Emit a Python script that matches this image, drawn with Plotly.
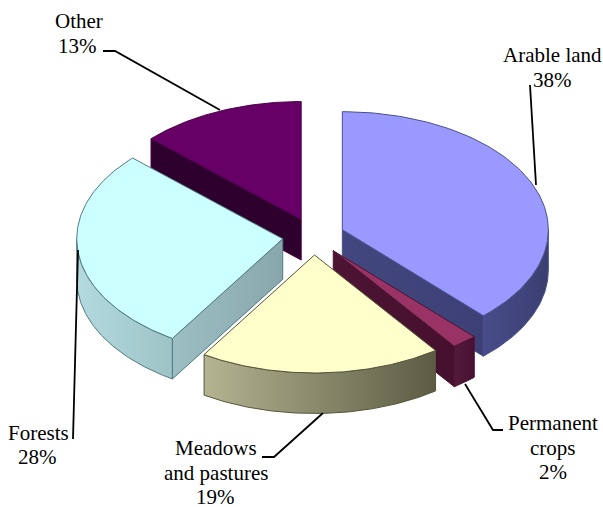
import numpy as np
import plotly.graph_objects as go

# --- chart data -------------------------------------------------------------
categories = ["Arable land", "Permanent crops", "Meadows and pastures", "Forests", "Other"]
shares = [38, 2, 19, 28, 13]

# --- colours ----------------------------------------------------------------
top_colors = ["#9999ff", "#993366", "#ffffcc", "#ccffff", "#660066"]
edge_colors = ["#4b4f8c", "#4d1433", "#55553a", "#4f7a80", "#4a004a"]
outer_wall_left = ["#484d8a", "#521a3a", "#b4b492", "#b3dade", "#330033"]
outer_wall_right = ["#3a3e70", "#4a1232", "#5c5c44", "#9dc3c7", "#330033"]
side_wall_left = ["#42477f", "#4d1433", "#80805f", "#9cbfc3", "#2e002e"]
side_wall_right = ["#3c4075", "#45102e", "#60604a", "#88a7ab", "#2e002e"]

# --- label layout (one entry per text line, in the order of categories) ------
label_lines = [["Arable land"], ["Permanent", "crops"], ["Meadows", "and pastures"], ["Forests"], ["Other"]]
label_x = [552, 553, 216, 38, 79]
label_y = [55, 423, 448, 432.5, 21]
percent_x = [552, 553, 215, 37, 77]
LINE_STEP = 24.7
leaders_x = [[530, 536], [503, 493, 465], [262, 274, 323], [73, 78], [103, 115, 220]]
leaders_y = [[85, 185], [430, 430, 384], [457, 457, 413], [439, 250], [51, 51, 110]]

# --- projection of the tilted pie (image pixels) ----------------------------
CX, CY = 313.5, 236.5
RX, RY = 206.0, 118.0
EX, EY = 31.0, 18.5
DEPTH = 40.5
STROKE = 1.0

total = sum(shares)
bounds = np.cumsum([0] + shares) / total * 360.0


def rim(tip, deg):
    a = np.radians(deg)
    return tip[0] + RX * np.sin(a), tip[1] - RY * np.cos(a)


def poly(fig, xs, ys, fill_left, fill_right, edge):
    fig.add_trace(go.Scatter(
        x=list(xs), y=list(ys), mode="lines", fill="toself",
        fillgradient=dict(type="horizontal",
                          colorscale=[[0, fill_left], [1, fill_right]]),
        line=dict(color=edge, width=STROKE),
        hoverinfo="skip", showlegend=False))


fig = go.Figure()
draw_order = [4, 0, 3, 1, 2]

for i in draw_order:
    a, b = bounds[i], bounds[i + 1]
    mid = np.radians((a + b) / 2)
    tip = (CX + EX * np.sin(mid), CY - EY * np.cos(mid))

    # straight cut faces that look towards the viewer
    for edge_deg, visible in ((a, np.sin(np.radians(a)) < -1e-6),
                              (b, np.sin(np.radians(b)) > 1e-6)):
        if visible:
            ex, ey = rim(tip, edge_deg)
            xs = [tip[0], ex, ex, tip[0], tip[0]]
            ys = [tip[1], ey, ey + DEPTH, tip[1] + DEPTH, tip[1]]
            poly(fig, xs, ys, side_wall_left[i], side_wall_right[i], edge_colors[i])

    # curved outer wall (front half of the ellipse only)
    lo, hi = max(a, 90.0), min(b, 270.0)
    if hi > lo:
        t = np.linspace(lo, hi, 80)
        ax, ay = rim(tip, t)
        xs = np.concatenate([ax, ax[::-1], ax[:1]])
        ys = np.concatenate([ay, ay[::-1] + DEPTH, ay[:1]])
        poly(fig, xs, ys, outer_wall_left[i], outer_wall_right[i], edge_colors[i])

    # top surface
    t = np.linspace(a, b, 120)
    ax, ay = rim(tip, t)
    fig.add_trace(go.Scatter(
        x=np.concatenate([[tip[0]], ax, [tip[0]]]),
        y=np.concatenate([[tip[1]], ay, [tip[1]]]),
        mode="lines", fill="toself", fillcolor=top_colors[i],
        line=dict(color=edge_colors[i], width=STROKE),
        name=categories[i], text=f"{categories[i]}: {shares[i]}%",
        hoverinfo="text", showlegend=False))

# leader lines
for lx, ly in zip(leaders_x, leaders_y):
    fig.add_trace(go.Scatter(x=lx, y=ly, mode="lines",
                             line=dict(color="#000000", width=1.8),
                             hoverinfo="skip", showlegend=False))

# labels
font = dict(family="Liberation Serif, Times New Roman, serif", size=21, color="#000000")
for i, lines in enumerate(label_lines):
    y = label_y[i]
    for line in lines:
        fig.add_annotation(x=label_x[i], y=y, text=line, showarrow=False,
                           xanchor="center", yanchor="middle", font=font)
        y += LINE_STEP
    fig.add_annotation(x=percent_x[i], y=y, text=f"{shares[i]}%", showarrow=False,
                       xanchor="center", yanchor="middle", font=font)

fig.update_layout(
    width=603, height=507, margin=dict(l=0, r=0, t=0, b=0),
    paper_bgcolor="#ffffff", plot_bgcolor="#ffffff", showlegend=False,
    xaxis=dict(range=[0, 603], visible=False, fixedrange=True),
    yaxis=dict(range=[507, 0], visible=False, fixedrange=True),
)
fig.write_html("out.html", config=dict(displayModeBar=False),
               post_script="document.body.style.margin='0';document.body.style.overflow='hidden';")
